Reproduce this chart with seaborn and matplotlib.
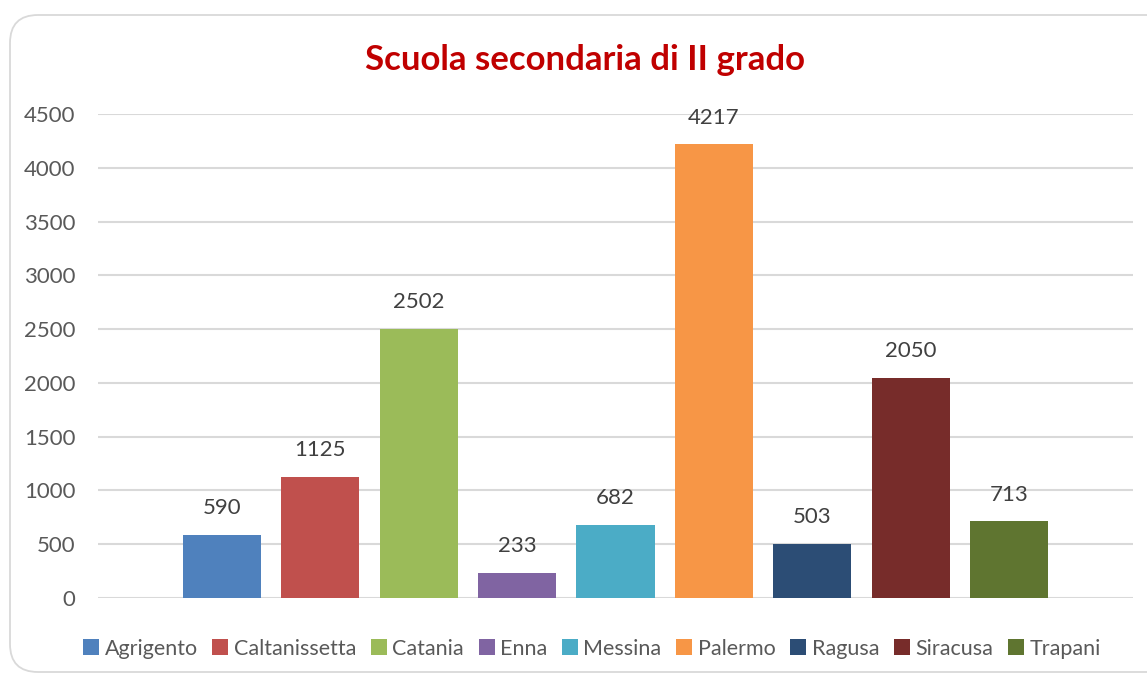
import numpy as np
import pandas as pd
import matplotlib
matplotlib.use('Agg')
import matplotlib.pyplot as plt
from matplotlib.patches import FancyBboxPatch
import seaborn as sns

# ── Dati ──────────────────────────────────────────────────────────────────────
province = ['Agrigento', 'Caltanissetta', 'Catania', 'Enna', 'Messina',
            'Palermo', 'Ragusa', 'Siracusa', 'Trapani']
valori   = [590, 1125, 2502, 233, 682, 4217, 503, 2050, 713]
colori   = ['#4F81BD', '#C0504D', '#9BBB59', '#8064A2', '#4BACC6',
            '#F79646', '#2C4D75', '#772C2A', '#5F7530']
y_ticks  = [0, 500, 1000, 1500, 2000, 2500, 3000, 3500, 4000, 4500]
titolo   = 'Scuola secondaria di II grado'

df = pd.DataFrame({'gruppo': [''] * len(province),
                   'provincia': province,
                   'valore': valori})

# ── Stile ─────────────────────────────────────────────────────────────────────
sns.set_theme(style='white')
plt.rcParams['font.family'] = ['Lato', 'DejaVu Sans']
TXT = '#595959'

fig = plt.figure(figsize=(11.47, 6.77), dpi=100)
fig.patch.set_facecolor('white')

# cornice arrotondata (in pollici per avere angoli regolari)
cornice = FancyBboxPatch((0.10, 0.05), 11.8, 6.57,
                         boxstyle='round,pad=0,rounding_size=0.28',
                         transform=fig.dpi_scale_trans,
                         facecolor='none', edgecolor='#D9D9D9', lw=1.3,
                         clip_on=False)
fig.patches.append(cornice)

ax = fig.add_axes([0.0854, 0.1167, 0.9024, 0.7149])
sns.barplot(data=df, x='gruppo', y='valore', hue='provincia',
            palette=colori, width=0.856, gap=0.207, ax=ax,
            saturation=1, errorbar=None, linewidth=0)

ax.set_ylim(0, 4500)
ax.set_xlim(-0.5, 0.5)
ax.set_yticks(y_ticks)
ax.set_yticklabels([str(t) for t in y_ticks], color=TXT, fontsize=16)
ax.set_xticks([])
ax.set_xlabel('')
ax.set_ylabel('')
ax.tick_params(axis='y', length=0, pad=16)
ax.yaxis.grid(True, color='#D9D9D9', lw=1.5)
ax.set_axisbelow(True)
for s in ax.spines.values():
    s.set_visible(False)

for c in ax.containers:
    ax.bar_label(c, fmt='%d', padding=12, fontsize=16, color='#404040')

handles, labels = ax.get_legend_handles_labels()
ax.get_legend().remove()
fig.legend(handles, labels, loc='center', bbox_to_anchor=(0.516, 0.042),
           ncol=9, frameon=False, fontsize=15.5, labelcolor=TXT,
           handlelength=0.75, handleheight=0.75, handletextpad=0.25,
           columnspacing=0.68, borderaxespad=0)

fig.text(0.51, 0.911, titolo, ha='center', va='center',
         fontsize=25, fontweight='bold', color='#C00000')

fig.savefig('out.png', dpi=100)
